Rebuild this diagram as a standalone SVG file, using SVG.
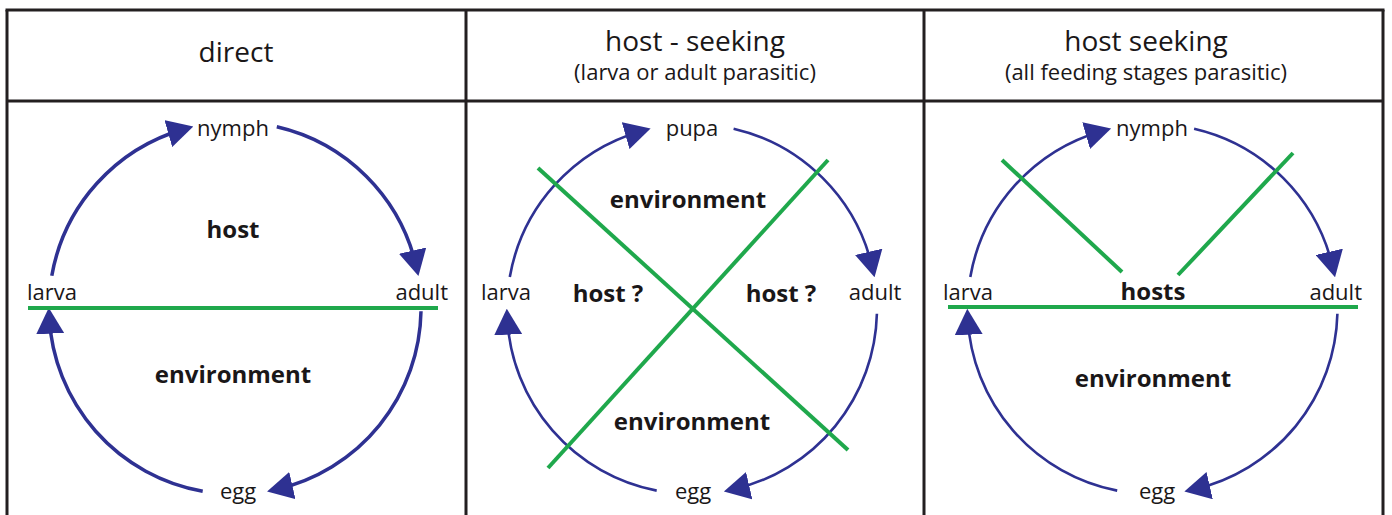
<svg xmlns="http://www.w3.org/2000/svg" width="1392" height="515" viewBox="0 0 1392 515">
<style>
.frame{stroke:#231f20;stroke-width:3;fill:none}
.hdr{font-family:"Open Sans","Liberation Sans",sans-serif;font-size:28px;fill:#1a1718;text-anchor:middle}
.sub{font-family:"Open Sans","Liberation Sans",sans-serif;font-size:22px;fill:#1a1718;text-anchor:middle}
.lbl{font-family:"Open Sans","Liberation Sans",sans-serif;font-size:22px;fill:#1a1718;text-anchor:middle}
.lbl.st{text-anchor:start}
.lbl.en{text-anchor:end}
.zone{font-family:"Open Sans","Liberation Sans",sans-serif;font-size:24px;font-weight:bold;fill:#1a1718;text-anchor:middle}
.arc{stroke:#2e3192;fill:none;marker-end:url(#ah)}
.arc1{stroke-width:3.5}
.arc2{stroke-width:2.6}
.grn{stroke:#1fa84c;stroke-width:4;fill:none}
</style>
<defs>
<marker id="ah" markerUnits="userSpaceOnUse" markerWidth="26" markerHeight="28" refX="16" refY="14" orient="auto">
<path d="M0,0 L26,14 L0,28 Z" fill="#2e3192"/>
</marker>
</defs>
<rect width="1392" height="515" fill="#ffffff"/>
<g id="frame" class="frame">
<line x1="5.5" y1="10" x2="1384.5" y2="10"/>
<line x1="7" y1="101" x2="1383" y2="101"/>
<line x1="7" y1="10" x2="7" y2="515"/>
<line x1="466" y1="10" x2="466" y2="515"/>
<line x1="924" y1="10" x2="924" y2="515"/>
<line x1="1383" y1="10" x2="1383" y2="515"/>
</g>
<g id="headers">
<text class="hdr" x="236" y="62">direct</text>
<text class="hdr" x="695" y="51">host - seeking</text>
<text class="sub" x="695" y="80">(larva or adult parasitic)</text>
<text class="hdr" x="1146" y="51">host seeking</text>
<text class="sub" x="1146" y="80">(all feeding stages parasitic)</text>
</g>
<g id="panel1">
<g id="connectors1">
<path class="arc arc1" d="M51.8,275.7 A186,186 0 0 1 183.7,129.2"/>
<path class="arc arc1" d="M276.8,126.8 A186,186 0 0 1 416.2,266.2"/>
<path class="arc arc1" d="M421,311.2 A186,186 0 0 1 276.8,489.2"/>
<path class="arc arc1" d="M202.7,491.2 A186,186 0 0 1 49.3,317.7"/>
</g>
<g id="boundary1"><line class="grn" x1="28" y1="308" x2="438" y2="308"/></g>
<g id="p1-nymph"><text class="lbl" x="233" y="136">nymph</text></g>
<g id="p1-adult"><text class="lbl en" x="448" y="300">adult</text></g>
<g id="p1-egg"><text class="lbl" x="238" y="499">egg</text></g>
<g id="p1-larva"><text class="lbl st" x="27" y="300">larva</text></g>
<g id="p1-host"><text class="zone" x="233" y="238">host</text></g>
<g id="p1-env"><text class="zone" x="233" y="383">environment</text></g>
</g>
<g id="panel2">
<g id="connectors2">
<path class="arc arc2" d="M509.8,276.9 A185,185 0 0 1 641,131.2"/>
<path class="arc arc2" d="M733.6,128.7 A185,185 0 0 1 872.3,267.4"/>
<path class="arc arc2" d="M876.9,313.8 A185,185 0 0 1 733.6,489.3"/>
<path class="arc arc2" d="M656.7,490.6 A185,185 0 0 1 507.3,318.7"/>
</g>
<g id="boundary2">
<line class="grn" x1="538" y1="168" x2="848" y2="450"/>
<line class="grn" x1="828" y1="160" x2="548" y2="468"/>
</g>
<g id="p2-pupa"><text class="lbl" x="692" y="136">pupa</text></g>
<g id="p2-adult"><text class="lbl" x="875" y="300">adult</text></g>
<g id="p2-egg"><text class="lbl" x="693" y="499">egg</text></g>
<g id="p2-larva"><text class="lbl" x="506" y="300">larva</text></g>
<g id="p2-env-top"><text class="zone" x="688" y="208">environment</text></g>
<g id="p2-host-left"><text class="zone" x="608" y="302">host ?</text></g>
<g id="p2-host-right"><text class="zone" x="781" y="302">host ?</text></g>
<g id="p2-env-bottom"><text class="zone" x="692" y="430">environment</text></g>
</g>
<g id="panel3">
<g id="connectors3">
<path class="arc arc2" d="M970.3,276.9 A185,185 0 0 1 1101.5,131.2"/>
<path class="arc arc2" d="M1194.1,128.7 A185,185 0 0 1 1332.8,267.4"/>
<path class="arc arc2" d="M1337.4,313.8 A185,185 0 0 1 1194.1,489.3"/>
<path class="arc arc2" d="M1117.2,490.6 A185,185 0 0 1 967.8,318.7"/>
</g>
<g id="boundary3">
<line class="grn" x1="948" y1="307" x2="1358" y2="307"/>
<line class="grn" x1="1002" y1="160" x2="1122" y2="272"/>
<line class="grn" x1="1293" y1="153" x2="1178" y2="275"/>
</g>
<g id="p3-nymph"><text class="lbl" x="1152" y="136">nymph</text></g>
<g id="p3-adult"><text class="lbl en" x="1362" y="300">adult</text></g>
<g id="p3-egg"><text class="lbl" x="1157" y="499">egg</text></g>
<g id="p3-larva"><text class="lbl st" x="943" y="300">larva</text></g>
<g id="p3-hosts"><text class="zone" x="1153" y="300">hosts</text></g>
<g id="p3-env"><text class="zone" x="1153" y="387">environment</text></g>
</g>
</svg>
